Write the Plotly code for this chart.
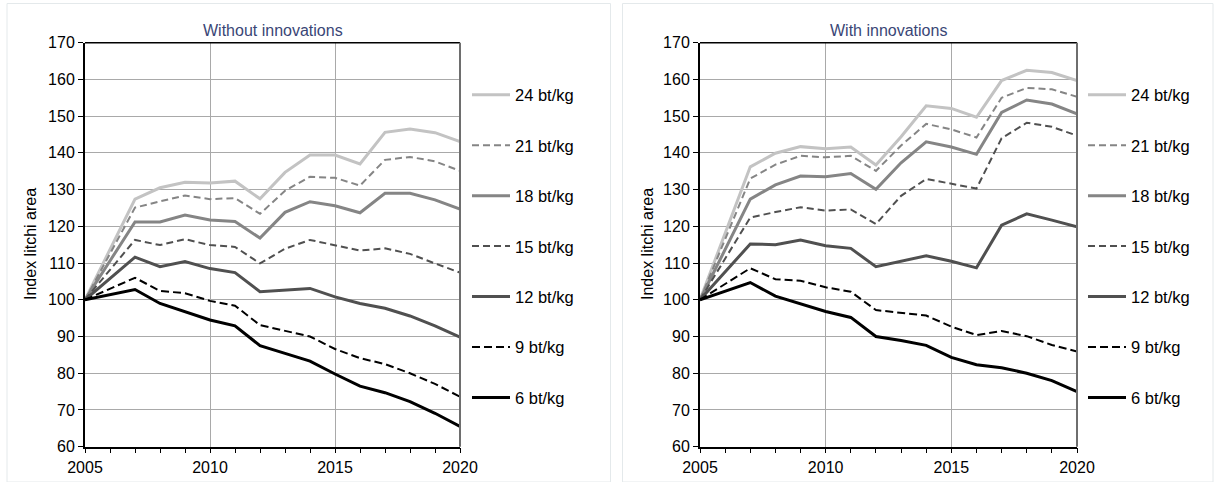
import plotly.graph_objects as go

years = [2005, 2007, 2008, 2009, 2010, 2011, 2012, 2013, 2014, 2015, 2016, 2017, 2018, 2019, 2020]

labels = ["24 bt/kg", "21 bt/kg", "18 bt/kg", "15 bt/kg", "12 bt/kg", "9 bt/kg", "6 bt/kg"]

# Without innovations
wo_24 = [100, 127.4, 130.5, 132.0, 131.8, 132.3, 127.5, 134.7, 139.4, 139.4, 137.0, 145.6, 146.5, 145.5, 143.1]
wo_21 = [100, 125.1, 126.8, 128.4, 127.4, 127.7, 123.4, 129.7, 133.5, 133.2, 131.1, 138.1, 138.9, 137.7, 135.1]
wo_18 = [100, 121.2, 121.2, 123.1, 121.7, 121.3, 116.8, 123.8, 126.7, 125.6, 123.7, 129.0, 129.0, 127.2, 124.7]
wo_15 = [100, 116.3, 114.9, 116.5, 114.9, 114.4, 109.9, 113.9, 116.3, 114.9, 113.4, 114.0, 112.5, 109.9, 107.4]
wo_12 = [100, 111.6, 109.0, 110.4, 108.5, 107.4, 102.2, 102.7, 103.1, 100.8, 99.0, 97.7, 95.6, 92.9, 89.8]
wo_9 = [100, 106.0, 102.4, 101.8, 99.7, 98.4, 93.1, 91.6, 90.0, 86.6, 84.1, 82.5, 80.0, 77.1, 73.6]
wo_6 = [100, 102.8, 99.0, 96.8, 94.5, 92.9, 87.5, 85.4, 83.3, 79.8, 76.5, 74.7, 72.3, 69.1, 65.5]

# With innovations
wi_24 = [100, 136.2, 139.9, 141.7, 141.1, 141.6, 136.7, 144.4, 152.8, 152.1, 149.7, 159.7, 162.5, 161.9, 159.7]
wi_21 = [100, 133.0, 136.8, 139.2, 138.8, 139.2, 135.1, 142.0, 147.9, 146.4, 144.2, 155.0, 157.7, 157.3, 155.3]
wi_18 = [100, 127.4, 131.3, 133.7, 133.5, 134.4, 130.1, 137.3, 143.0, 141.6, 139.6, 151.0, 154.4, 153.3, 150.6]
wi_15 = [100, 122.4, 123.9, 125.2, 124.3, 124.6, 120.6, 128.3, 132.9, 131.6, 130.3, 144.0, 148.2, 147.1, 144.7]
wi_12 = [100, 115.2, 115.0, 116.3, 114.7, 114.0, 109.0, 110.6, 112.0, 110.5, 108.7, 120.3, 123.4, 121.7, 119.9]
wi_9 = [100, 108.6, 105.6, 105.2, 103.4, 102.2, 97.2, 96.5, 95.7, 92.7, 90.4, 91.5, 90.1, 87.7, 85.9]
wi_6 = [100, 104.7, 101.0, 99.0, 96.8, 95.2, 90.0, 88.9, 87.6, 84.3, 82.3, 81.5, 80.0, 78.0, 75.0]

without_series = [wo_24, wo_21, wo_18, wo_15, wo_12, wo_9, wo_6]
with_series = [wi_24, wi_21, wi_18, wi_15, wi_12, wi_9, wi_6]

panel_titles = ["Without innovations", "With innovations"]
y_title = "Index litchi area"
x_ticks = [2005, 2010, 2015, 2020]
y_ticks = [60, 70, 80, 90, 100, 110, 120, 130, 140, 150, 160, 170]

styles = [
    dict(color="#c3c3c3", width=3, dash="solid"),
    dict(color="#858585", width=2, dash="7px,4px"),
    dict(color="#858585", width=3, dash="solid"),
    dict(color="#505050", width=2, dash="7px,4px"),
    dict(color="#505050", width=3, dash="solid"),
    dict(color="#000000", width=2, dash="8px,4px"),
    dict(color="#000000", width=3, dash="solid"),
]

W, H = 1216, 482
FONT = "Liberation Sans, Arial, sans-serif"

fig = go.Figure()

panels = [without_series, with_series]
for p, series in enumerate(panels):
    xa = "x" if p == 0 else "x2"
    ya = "y" if p == 0 else "y2"
    lg = "legend" if p == 0 else "legend2"
    for i, vals in enumerate(series):
        fig.add_trace(go.Scatter(
            x=years, y=vals, mode="lines", name=labels[i],
            line=styles[i], xaxis=xa, yaxis=ya, legend=lg,
            legendgroup=f"p{p}g{i}", showlegend=True,
        ))

x_domains = [[85 / W, 460 / W], [700 / W, 1077 / W]]
y_domain = [1 - 446.7 / H, 1 - 42.7 / H]

axis_common_x = dict(
    range=[2005, 2020], tickvals=x_ticks, showgrid=True, gridcolor="#a9a9a9", gridwidth=1,
    ticks="outside", ticklen=5, tickcolor="#000", tickwidth=1,
    minor=dict(dtick=1, ticks="outside", ticklen=5, tickcolor="#000", showgrid=False),
    showline=True, linecolor="#000", linewidth=1.5, zeroline=False, automargin=False,
    tickfont=dict(size=16, color="#000", family=FONT), fixedrange=True,
)
axis_common_y = dict(
    range=[60, 170], tickvals=y_ticks, showgrid=True, gridcolor="#a9a9a9", gridwidth=1,
    ticks="outside", ticklen=5, tickcolor="#000", tickwidth=1,
    showline=True, linecolor="#000", linewidth=2, zeroline=False, automargin=False,
    tickfont=dict(size=16, color="#000", family=FONT), fixedrange=True,
)

fig.update_layout(
    xaxis=dict(domain=x_domains[0], anchor="y", **axis_common_x),
    yaxis=dict(domain=y_domain, anchor="x", **axis_common_y),
    xaxis2=dict(domain=x_domains[1], anchor="y2", **axis_common_x),
    yaxis2=dict(domain=y_domain, anchor="x2", **axis_common_y),
)

legend_common = dict(
    yanchor="top", xanchor="left", traceorder="grouped", tracegroupgap=26,
    itemwidth=38, font=dict(size=16.5, color="#000", family=FONT),
    bgcolor="rgba(0,0,0,0)", borderwidth=0, itemclick=False, itemdoubleclick=False,
)
fig.update_layout(
    legend=dict(x=467 / W, y=1 - 77.5 / H, **legend_common),
    legend2=dict(x=1083 / W, y=1 - 77.5 / H, **legend_common),
)

shapes = []
# panel frames
shapes.append(dict(type="rect", xref="paper", yref="paper", x0=7 / W, x1=610.5 / W,
                   y0=0, y1=1 - 3.5 / H, line=dict(color="#e4e9eb", width=1), layer="below"))
shapes.append(dict(type="rect", xref="paper", yref="paper", x0=622.5 / W, x1=1213 / W,
                   y0=0, y1=1 - 3.5 / H, line=dict(color="#e4e9eb", width=1), layer="below"))
for xa, ya in [("x", "y"), ("x2", "y2")]:
    shapes.append(dict(type="line", xref=f"{xa} domain", yref=f"{ya} domain", x0=0, x1=1, y0=1, y1=1,
                       line=dict(color="#000", width=1.5)))
    shapes.append(dict(type="line", xref=f"{xa} domain", yref=f"{ya} domain", x0=1, x1=1, y0=0, y1=1,
                       line=dict(color="#6e6e6e", width=2)))
fig.update_layout(shapes=shapes)

annotations = []
title_x = [272.5 / W, 888.5 / W]
ytitle_x = [30 / W, 647 / W]
for p in range(2):
    annotations.append(dict(text=panel_titles[p], xref="paper", yref="paper", x=title_x[p], y=1 - 30.7 / H,
                            xanchor="center", yanchor="middle", showarrow=False,
                            font=dict(size=16, color="#3a4676", family=FONT)))
    annotations.append(dict(text=y_title, xref="paper", yref="paper", x=ytitle_x[p], y=1 - 244 / H,
                            xanchor="center", yanchor="middle", showarrow=False, textangle=-90,
                            font=dict(size=16, color="#000", family=FONT)))
fig.update_layout(annotations=annotations)

fig.update_layout(
    width=W, height=H, margin=dict(l=0, r=0, t=0, b=0, pad=0, autoexpand=False),
    paper_bgcolor="#ffffff", plot_bgcolor="#ffffff",
    font=dict(family=FONT, color="#000"),
)

fig.write_html(
    "out.html",
    config={"displayModeBar": False},
    post_script="document.body.style.margin='0';document.body.style.overflow='hidden';",
)
